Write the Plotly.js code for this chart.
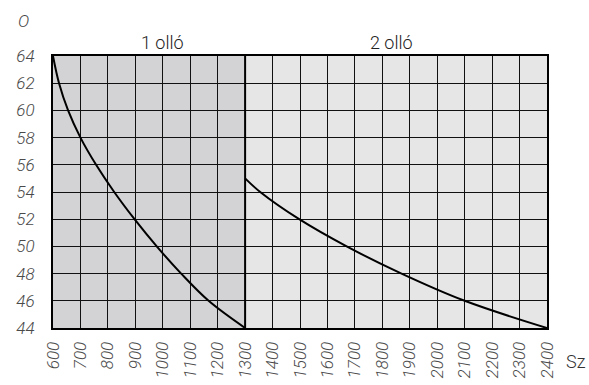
<!DOCTYPE html>
<html>
<head>
<meta charset="utf-8">
<script src="https://cdn.plot.ly/plotly-3.0.1.min.js"></script>
<style>html,body{margin:0;padding:0;background:#fff;overflow:hidden}#chart{width:589px;height:385px}</style>
</head>
<body>
<div id="chart"></div>
<script>
// Curve for "1 olló" (one shear)
const x1 = [600, 622, 655, 700, 757, 823, 897, 978, 1067, 1167, 1300];
const y1 = [64, 62, 60, 58, 56, 54, 52, 50, 48, 46, 44];
// Curve for "2 olló" (two shears)
const x2 = [1300, 1355, 1497, 1670, 1870, 2100, 2400];
const y2 = [55, 54, 52, 50, 48, 46, 44];
const xTicks = [600,700,800,900,1000,1100,1200,1300,1400,1500,1600,1700,1800,1900,2000,2100,2200,2300,2400];
const yTicks = [44,46,48,50,52,54,56,58,60,62,64];
const regionLabels = ["1 olló", "2 olló"];
const regionBounds = [[600,1300],[1300,2400]];
const regionLabelX = [1000, 1835];
const yTitle = "O";
const xTitle = "Sz";

const fontFam = "Roboto, 'Liberation Sans', sans-serif";
const traces = [
  {x: x1, y: y1, mode: 'lines', line: {color: '#000', width: 2, shape: 'spline', smoothing: 1}, hoverinfo: 'skip'},
  {x: x2, y: y2, mode: 'lines', line: {color: '#000', width: 2, shape: 'spline', smoothing: 1}, hoverinfo: 'skip'}
];
const tickFont = {family: fontFam, size: 17, color: '#4a4a4a', style: 'italic', weight: 300};
const layout = {
  width: 589, height: 385,
  margin: {l: 53, r: 42, t: 56, b: 57},
  paper_bgcolor: '#fff', plot_bgcolor: '#fff',
  showlegend: false,
  xaxis: {
    range: [600, 2400], tickvals: xTicks, ticktext: xTicks.map(String),
    tickangle: -90, ticks: '', ticklabelstandoff: 5,
    tickfont: tickFont,
    showgrid: true, gridcolor: '#111', gridwidth: 1,
    showline: true, mirror: true, linecolor: '#000', linewidth: 2, zeroline: false
  },
  yaxis: {
    range: [44, 64], tickvals: yTicks, ticktext: yTicks.map(String),
    ticks: '', ticklabelstandoff: 13,
    tickfont: tickFont,
    showgrid: true, gridcolor: '#111', gridwidth: 1,
    showline: true, mirror: true, linecolor: '#000', linewidth: 2, zeroline: false
  },
  shapes: [
    {type: 'rect', xref: 'x', yref: 'y', x0: regionBounds[0][0], x1: regionBounds[0][1], y0: 44, y1: 64, fillcolor: '#d3d3d5', line: {width: 0}, layer: 'below'},
    {type: 'rect', xref: 'x', yref: 'y', x0: regionBounds[1][0], x1: regionBounds[1][1], y0: 44, y1: 64, fillcolor: '#e6e6e6', line: {width: 0}, layer: 'below'},
    {type: 'line', xref: 'x', yref: 'y', x0: regionBounds[0][1], x1: regionBounds[0][1], y0: 44, y1: 64, line: {color: '#000', width: 2}, layer: 'above'}
  ],
  annotations: [
    {text: regionLabels[0], x: regionLabelX[0], xref: 'x', y: 64, yref: 'y', yanchor: 'bottom', yshift: 1, showarrow: false, font: {family: fontFam, size: 18, color: '#222', weight: 300}},
    {text: regionLabels[1], x: regionLabelX[1], xref: 'x', y: 64, yref: 'y', yanchor: 'bottom', yshift: 1, showarrow: false, font: {family: fontFam, size: 18, color: '#222', weight: 300}},
    {text: yTitle, showarrow: false, xanchor: 'center', yanchor: 'middle', font: {family: fontFam, size: 17, color: '#444', style: 'italic', weight: 300}},
    {text: xTitle, showarrow: false, xanchor: 'left', yanchor: 'middle', font: {family: fontFam, size: 18, color: '#333', weight: 300}}
  ]
};
// place the two titles in pixel-based paper coordinates
const pw = 589 - 53 - 42, ph = 385 - 56 - 57;
layout.annotations[2].xref = 'paper'; layout.annotations[2].yref = 'paper';
layout.annotations[2].x = (23 - 53) / pw; layout.annotations[2].y = (385 - 57 - 21) / ph;
layout.annotations[3].xref = 'paper'; layout.annotations[3].yref = 'paper';
layout.annotations[3].x = (564 - 53) / pw; layout.annotations[3].y = (385 - 57 - 361) / ph;
Plotly.newPlot('chart', traces, layout, {staticPlot: true, displayModeBar: false});
</script>
</body>
</html>
